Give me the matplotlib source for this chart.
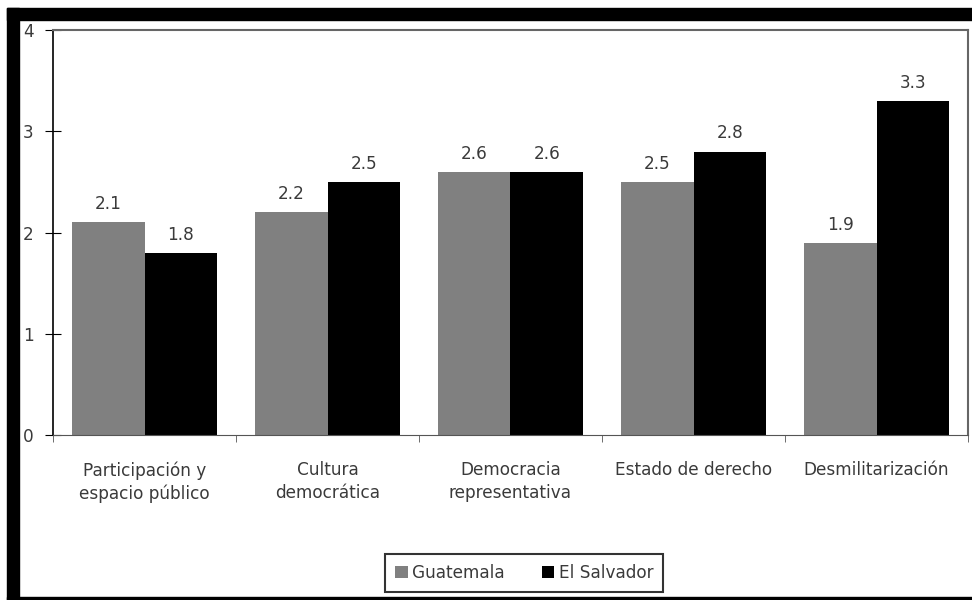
import numpy as np
import matplotlib.pyplot as plt
from matplotlib.patches import Rectangle

categories = ["Participación y\nespacio público", "Cultura\ndemocrática",
              "Democracia\nrepresentativa", "Estado de derecho", "Desmilitarización"]
guatemala = [2.1, 2.2, 2.6, 2.5, 1.9]
el_salvador = [1.8, 2.5, 2.6, 2.8, 3.3]
series_names = ["Guatemala", "El Salvador"]

plt.rcParams['font.family'] = ['DejaVu Sans']
FS = 12.2
TXT = "#3a3a3a"

fig = plt.figure(figsize=(9.72, 6.0), dpi=100)
ax = fig.add_axes([53/972, 165/600, 915/972, 405/600])

x = np.arange(len(categories))
w = 0.395
b1 = ax.bar(x - w/2, guatemala, w, color="#808080", label=series_names[0])
b2 = ax.bar(x + w/2, el_salvador, w, color="#000000", label=series_names[1])
for bars in (b1, b2):
    for r in bars:
        ax.text(r.get_x() + r.get_width()/2, r.get_height() + 0.09,
                f"{r.get_height():.1f}", ha="center", va="bottom",
                fontsize=FS, color=TXT)

ax.set_xlim(-0.5, len(categories) - 0.5)
ax.set_ylim(0, 4)
ax.set_yticks([0, 1, 2, 3, 4])
ax.set_xticks(x)
ax.set_xticklabels(categories, fontsize=FS, color=TXT, linespacing=1.3)
ax.set_xticks(np.arange(len(categories) + 1) - 0.5, minor=True)
ax.tick_params(axis="x", which="major", length=0, pad=19)
ax.tick_params(axis="x", which="minor", length=5, color="#555555")
ax.tick_params(axis="y", direction="inout", length=12, labelsize=FS,
               labelcolor=TXT, pad=8)
for s in ("top", "right"):
    ax.spines[s].set_color("#666666")
    ax.spines[s].set_linewidth(1.5)
ax.spines["left"].set_linewidth(1.2)
ax.spines["bottom"].set_color("#555555")

leg = fig.legend(loc="center", bbox_to_anchor=(524/972, 27/600), ncol=2,
                 fontsize=FS, frameon=True, fancybox=False, edgecolor="black",
                 handlelength=0.75, handleheight=0.75, handletextpad=0.25,
                 columnspacing=2.2, borderpad=0.6, borderaxespad=0,
                 labelcolor=TXT)
leg.get_frame().set_linewidth(1.5)
# wider side padding, as in the original box
fig.canvas.draw()
bb = leg.get_frame().get_bbox()
leg.get_frame().set_bounds(bb.x0 - 14, bb.y0, bb.width + 28, bb.height)

# black frame from the scanned page
fig.patches.append(Rectangle((7/972, 580/600), 965/972, 12/600, transform=fig.transFigure,
                             color="black", zorder=10))
fig.patches.append(Rectangle((7/972, 0), 12/972, 592/600, transform=fig.transFigure,
                             color="black", zorder=10))
fig.patches.append(Rectangle((7/972, 0), 965/972, 3/600, transform=fig.transFigure,
                             color="black", zorder=10))

fig.savefig("out.png", dpi=100)
